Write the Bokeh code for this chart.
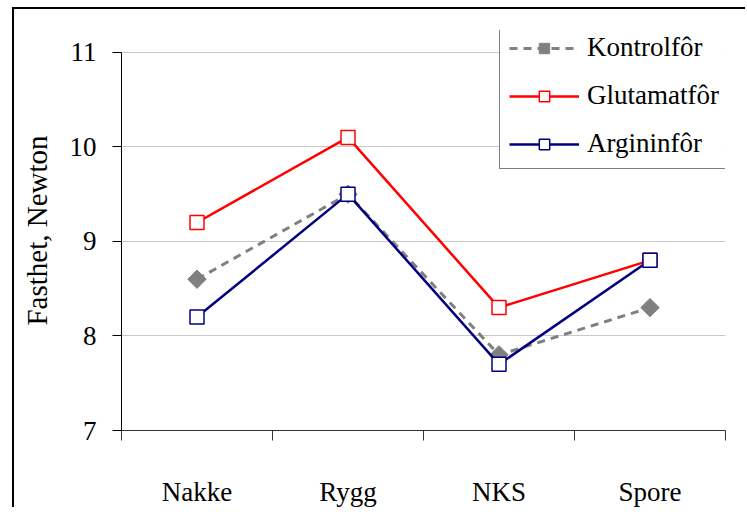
import math
from bokeh.plotting import figure
from bokeh.models import FixedTicker, Legend, LegendItem
from bokeh.embed import file_html
from bokeh.resources import INLINE

categories = ["Nakke", "Rygg", "NKS", "Spore"]
kontrol = [8.6, 9.5, 7.8, 8.3]
glutamat = [9.2, 10.1, 8.3, 8.8]
arginin = [8.2, 9.5, 7.7, 8.8]
series_names = ["Kontrolfôr", "Glutamatfôr", "Argininfôr"]
y_ticks = [7, 8, 9, 10, 11]

xs = [i + 0.5 for i in range(len(categories))]
FONT = "Liberation Serif"

p = figure(width=733, height=500, output_backend="svg", toolbar_location=None,
           x_range=(0, len(categories)), y_range=(7, 11.231),
           min_border_left=107, min_border_right=22, min_border_top=21, min_border_bottom=76)
p.styles = {"border-left": "2px solid black", "border-top": "2px solid black",
            "margin-left": "12px", "margin-top": "7px"}
p.outline_line_color = None
p.background_fill_color = "white"
p.border_fill_color = "white"

# grid
p.xgrid.grid_line_color = None
p.ygrid.ticker = FixedTicker(ticks=[8, 9, 10, 11])
p.ygrid.grid_line_color = "#c8c8c8"
p.ygrid.grid_line_width = 1

# x axis
p.xaxis.ticker = FixedTicker(ticks=xs, minor_ticks=list(range(len(categories) + 1)))
p.xaxis.major_label_overrides = {x: c for x, c in zip(xs, categories)}
p.xaxis.major_tick_out = 0
p.xaxis.major_tick_in = 0
p.xaxis.minor_tick_out = 10
p.xaxis.minor_tick_in = 0
p.xaxis.minor_tick_line_color = "#333333"
p.xaxis.axis_line_color = "#333333"
p.xaxis.major_label_standoff = 36
p.xaxis.major_label_text_font = FONT
p.xaxis.major_label_text_font_size = "27px"
p.xaxis.major_label_text_color = "black"

# y axis
p.yaxis.ticker = FixedTicker(ticks=y_ticks)
p.yaxis.bounds = (7, 11)
p.yaxis.minor_tick_line_color = None
p.yaxis.major_tick_out = 9
p.yaxis.major_tick_in = 0
p.yaxis.axis_line_color = "black"
p.yaxis.major_tick_line_color = "black"
p.yaxis.major_label_standoff = 16
p.yaxis.major_label_text_font = FONT
p.yaxis.major_label_text_font_size = "27px"
p.yaxis.major_label_text_color = "black"
p.yaxis.axis_label = "Fasthet, Newton"
p.yaxis.axis_label_text_font = FONT
p.yaxis.axis_label_text_font_size = "29px"
p.yaxis.axis_label_text_font_style = "normal"
p.yaxis.axis_label_text_color = "black"
p.yaxis.axis_label_standoff = 14

# series
l1 = p.line(xs, kontrol, line_color="#808080", line_width=3, line_dash="8 6")
s1 = p.scatter(xs, kontrol, marker="square", angle=math.pi / 4, size=13,
               fill_color="#808080", line_color="#808080")
l2 = p.line(xs, glutamat, line_color="#ff0000", line_width=2.5)
s2 = p.scatter(xs, glutamat, marker="square", size=14, fill_color="white", line_color="#ff0000", line_width=1.5)
l3 = p.line(xs, arginin, line_color="#000080", line_width=2.5)
s3 = p.scatter(xs, arginin, marker="square", size=14, fill_color="white", line_color="#000080", line_width=1.5)

legend = Legend(items=[
    LegendItem(label=series_names[0], renderers=[l1, s1]),
    LegendItem(label=series_names[1], renderers=[l2, s2]),
    LegendItem(label=series_names[2], renderers=[l3, s3]),
], location=(378, 261))
legend.label_text_font = FONT
legend.label_text_font_size = "27px"
legend.label_text_color = "black"
legend.glyph_width = 70
legend.glyph_height = 26
legend.label_height = 26
legend.spacing = 17
legend.padding = 9
legend.margin = 0
legend.label_standoff = 8
legend.border_line_color = "black"
legend.border_line_width = 1
legend.background_fill_color = "white"
legend.background_fill_alpha = 1
p.add_layout(legend, "center")

open("out.html", "w").write(file_html(p, INLINE))
